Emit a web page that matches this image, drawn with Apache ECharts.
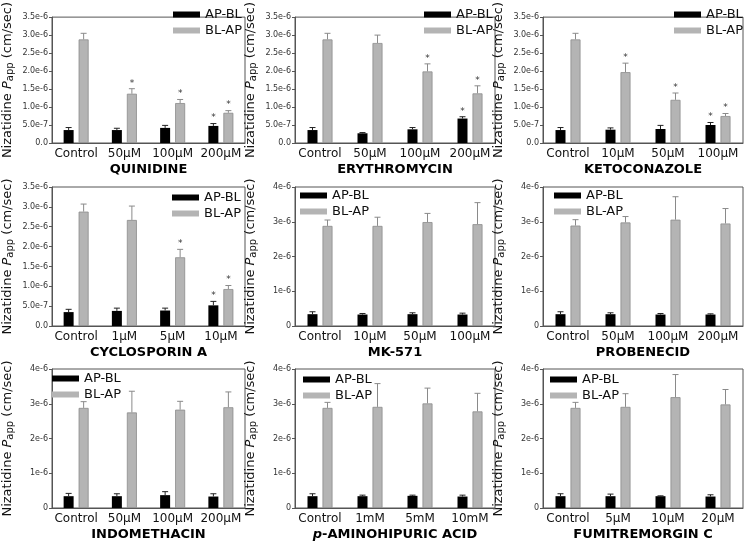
<!DOCTYPE html>
<html>
<head>
<meta charset="utf-8">
<script src="https://cdn.jsdelivr.net/npm/echarts@6/dist/echarts.min.js"></script>
<style>
html,body{margin:0;padding:0;background:#fff;}
#c{width:747px;height:542px;}
</style>
</head>
<body>
<div id="c"></div>
<script>
// Values are in units of 1e-6 cm/sec
const panelTitles = ['QUINIDINE','ERYTHROMYCIN','KETOCONAZOLE','CYCLOSPORIN A','MK-571','PROBENECID','INDOMETHACIN','{pi|p}-AMINOHIPURIC ACID','FUMITREMORGIN C'];
const panelCategories = [
  ['Control','50\u03bcM','100\u03bcM','200\u03bcM'],
  ['Control','50\u03bcM','100\u03bcM','200\u03bcM'],
  ['Control','10\u03bcM','50\u03bcM','100\u03bcM'],
  ['Control','1\u03bcM','5\u03bcM','10\u03bcM'],
  ['Control','10\u03bcM','50\u03bcM','100\u03bcM'],
  ['Control','50\u03bcM','100\u03bcM','200\u03bcM'],
  ['Control','50\u03bcM','100\u03bcM','200\u03bcM'],
  ['Control','1mM','5mM','10mM'],
  ['Control','5\u03bcM','10\u03bcM','20\u03bcM']
];
const apBlMeans = [
  [0.36,0.36,0.42,0.475],
  [0.36,0.27,0.38,0.68],
  [0.36,0.37,0.39,0.50],
  [0.35,0.38,0.39,0.52],
  [0.34,0.33,0.34,0.33],
  [0.34,0.34,0.33,0.33],
  [0.34,0.34,0.37,0.33],
  [0.34,0.34,0.35,0.33],
  [0.34,0.34,0.34,0.33]
];
const apBlErrs = [
  [0.07,0.05,0.07,0.065],
  [0.07,0.02,0.05,0.05],
  [0.07,0.05,0.10,0.07],
  [0.07,0.07,0.06,0.10],
  [0.07,0.03,0.04,0.04],
  [0.07,0.04,0.03,0.02],
  [0.08,0.07,0.10,0.08],
  [0.07,0.03,0.02,0.04],
  [0.07,0.06,0.01,0.05]
];
const blApMeans = [
  [2.88,1.37,1.11,0.84],
  [2.88,2.78,1.99,1.38],
  [2.88,1.97,1.20,0.75],
  [2.88,2.67,1.73,0.93],
  [2.88,2.88,2.99,2.93],
  [2.89,2.98,3.06,2.95],
  [2.88,2.75,2.83,2.90],
  [2.88,2.91,3.01,2.78],
  [2.88,2.91,3.19,2.98]
];
const blApErrs = [
  [0.17,0.14,0.10,0.06],
  [0.17,0.22,0.21,0.21],
  [0.17,0.25,0.19,0.07],
  [0.19,0.35,0.20,0.09],
  [0.17,0.25,0.25,0.62],
  [0.17,0.17,0.66,0.43],
  [0.18,0.61,0.24,0.44],
  [0.16,0.67,0.44,0.52],
  [0.16,0.38,0.65,0.43]
];
const apBlStars = [
  [0,0,0,1],[0,0,0,1],[0,0,0,1],[0,0,0,1],
  [0,0,0,0],[0,0,0,0],[0,0,0,0],[0,0,0,0],[0,0,0,0]
];
const blApStars = [
  [0,1,1,1],[0,0,1,1],[0,1,1,1],[0,0,1,1],
  [0,0,0,0],[0,0,0,0],[0,0,0,0],[0,0,0,0],[0,0,0,0]
];
const yTickLabels35 = ['0.0','5.0e-7','1.0e-6','1.5e-6','2.0e-6','2.5e-6','3.0e-6','3.5e-6'];
const yTickLabels4 = ['0','1e-6','2e-6','3e-6','4e-6'];
const seriesNames = ['AP-BL','BL-AP'];

// layout / style
const FONT = 'DejaVu Sans';
const colLeft = [45, 295, 543];
const rowTop = [3, 187, 369];
const rowH = [140, 139, 140];
const PW = 200;
const BAR_W = 10, BAR_GAP = 0.5;
const OFF = (BAR_W + BAR_W * BAR_GAP) / 2;
const legendPos = [
  [173,8],[424,8],[674,8],
  [172,191],[300,189],[554,189],
  [52,372],[303,373],[550,373]
];

const grids = [], xAxes = [], yAxes = [], series = [], legends = [];

function errRenderer(offset, lineColor) {
  return function (params, api) {
    const c = api.value(0), v = api.value(1), e = api.value(2), s = api.value(3);
    const b = api.coord([c, v]);
    const t = api.coord([c, v + e]);
    const x = b[0] + offset;
    const children = [
      {type:'line', shape:{x1:x, y1:b[1], x2:x, y2:t[1]}, style:{stroke:lineColor, lineWidth:1}},
      {type:'line', shape:{x1:x-3, y1:t[1], x2:x+3, y2:t[1]}, style:{stroke:lineColor, lineWidth:1}}
    ];
    if (s) {
      children.push({type:'text', style:{text:'*', x:x, y:t[1]-1, align:'center', verticalAlign:'bottom', fontSize:9, fontFamily:FONT, fill:'#333'}});
    }
    return {type:'group', children};
  };
}

for (let i = 0; i < 9; i++) {
  const r = Math.floor(i / 3), c = i % 3;
  const small = i < 4;
  const ticks = small ? yTickLabels35 : yTickLabels4;
  const interval = small ? 0.5 : 1;
  grids.push({left: colLeft[c], top: rowTop[r], width: PW, height: rowH[r], show: true, borderColor: '#555', borderWidth: 1, containLabel: false});
  xAxes.push({
    type: 'category', gridIndex: i, data: panelCategories[i],
    axisLine: {lineStyle: {color: '#555'}},
    axisTick: {alignWithLabel: true, length: 3, lineStyle: {color: '#555'}},
    axisLabel: {interval: 0, fontSize: 12, fontFamily: FONT, color: '#111', margin: 5},
    name: panelTitles[i], nameLocation: 'middle', nameGap: 20,
    nameTextStyle: {fontSize: 13, fontWeight: 'bold', fontFamily: FONT, color: '#000',
      rich: {pi: {fontSize: 13, fontWeight: 'bold', fontStyle: 'italic', fontFamily: FONT, color: '#000'}}}
  });
  yAxes.push({
    type: 'value', gridIndex: i, min: 0, max: small ? 3.5 : 4, interval: interval,
    splitLine: {show: false},
    axisLine: {show: true, lineStyle: {color: '#555'}},
    axisTick: {show: true, length: 3, lineStyle: {color: '#555'}},
    axisLabel: {fontSize: 8, fontFamily: FONT, color: '#333', margin: 4,
      formatter: function (v) { return ticks[Math.round(v / interval)]; }},
    name: '{n|Nizatidine }{i|P}{s|app}{n| (cm/sec)}', nameLocation: 'middle', nameGap: 37,
    nameTextStyle: {fontSize: 13, fontFamily: FONT, color: '#111',
      rich: {
        n: {fontSize: 13, fontFamily: FONT, color: '#111'},
        i: {fontSize: 13, fontFamily: FONT, fontStyle: 'italic', color: '#111'},
        s: {fontSize: 10, fontFamily: FONT, color: '#111', padding: [5, 0, 0, 0]}
      }}
  });
  series.push({
    type: 'bar', name: seriesNames[0], xAxisIndex: i, yAxisIndex: i,
    data: apBlMeans[i], barWidth: BAR_W, barGap: (BAR_GAP * 100) + '%',
    itemStyle: {color: '#000'}
  });
  series.push({
    type: 'bar', name: seriesNames[1], xAxisIndex: i, yAxisIndex: i,
    data: blApMeans[i], barWidth: BAR_W, barGap: (BAR_GAP * 100) + '%',
    itemStyle: {color: '#b4b4b4', borderColor: '#8c8c8c', borderWidth: 0.8}
  });
  series.push({
    type: 'custom', xAxisIndex: i, yAxisIndex: i, z: 5, clip: false,
    renderItem: errRenderer(-OFF, '#222'),
    data: apBlMeans[i].map((v, k) => [k, v, apBlErrs[i][k], apBlStars[i][k]])
  });
  series.push({
    type: 'custom', xAxisIndex: i, yAxisIndex: i, z: 5, clip: false,
    renderItem: errRenderer(OFF, '#8a8a8a'),
    data: blApMeans[i].map((v, k) => [k, v, blApErrs[i][k], blApStars[i][k]])
  });
  legends.push({
    data: seriesNames, orient: 'vertical', left: legendPos[i][0], top: legendPos[i][1],
    icon: 'rect', itemWidth: 27, itemHeight: 6, itemGap: 3, padding: 0,
    itemStyle: {borderWidth: 0},
    textStyle: {fontSize: 13, fontFamily: FONT, color: '#111'}
  });
}

const chart = echarts.init(document.getElementById('c'), null, {renderer: 'canvas'});
chart.setOption({
  animation: false,
  backgroundColor: '#fff',
  grid: grids, xAxis: xAxes, yAxis: yAxes, series: series, legend: legends
});
</script>
</body>
</html>
